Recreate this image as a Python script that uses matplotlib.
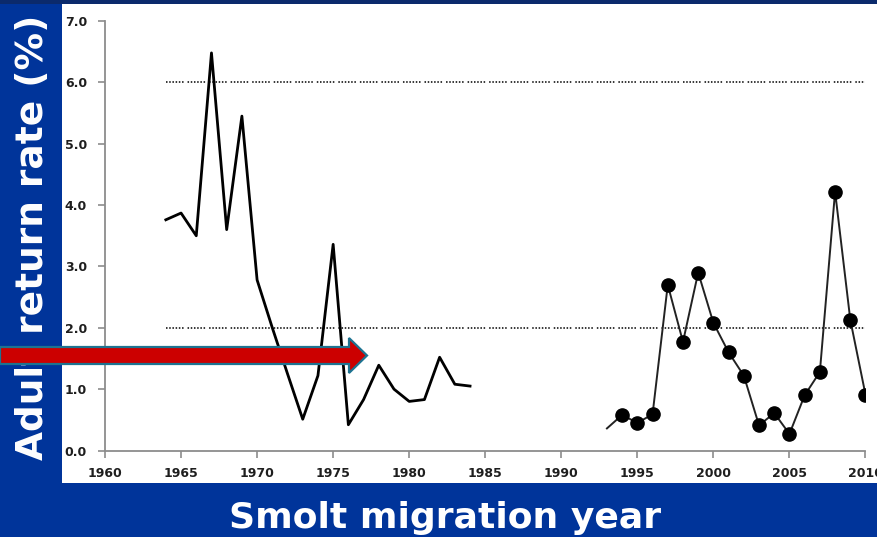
import matplotlib
matplotlib.use("Agg")
import matplotlib.pyplot as plt
from matplotlib.patches import Rectangle, FancyArrow

# smolt-to-adult return rates
early_years = list(range(1964, 1985))
early_rates = [3.76, 3.87, 3.50, 6.48, 3.60, 5.45, 2.78, 2.00, 1.25, 0.51, 1.22,
               3.36, 0.42, 0.83, 1.39, 1.00, 0.80, 0.83, 1.52, 1.08, 1.05]

recent_years = list(range(1993, 2011))
recent_rates = [0.36, 0.58, 0.45, 0.59, 2.70, 1.77, 2.90, 2.08, 1.60, 1.22,
                0.41, 0.61, 0.27, 0.90, 1.28, 4.22, 2.13, 0.91]

goal_levels = [2.0, 6.0]
goal_span = (1964, 2010)

x_ticks = list(range(1960, 2011, 5))
y_ticks = [0, 1, 2, 3, 4, 5, 6, 7]

BLUE = "#00349a"
W, H = 878, 537

fig = plt.figure(figsize=(W / 100, H / 100), dpi=100)
fig.patch.set_facecolor(BLUE)

# dark strip at the top and white panel behind the chart
fig.patches.append(Rectangle((0, 1 - 4 / H), 1, 4 / H, transform=fig.transFigure,
                             facecolor="#0b2a6c", edgecolor="none", zorder=-2))
fig.patches.append(Rectangle((62 / W, 1 - 483 / H), (W - 62) / W, (483 - 4) / H,
                             transform=fig.transFigure, facecolor="white",
                             edgecolor="none", zorder=-2))

ax = fig.add_axes([105 / W, 1 - 450.5 / H, (865.5 - 105) / W, (450.5 - 21) / H])
ax.set_facecolor("none")

for level in goal_levels:
    ax.plot(goal_span, [level, level], color="black", linewidth=1.1,
            linestyle=(0, (1, 1.1, 1, 1.1, 1, 1.1, 1, 1.1, 1, 1.1, 1, 2.6)),
            zorder=2)

ax.plot(early_years, early_rates, color="black", linewidth=2.0, zorder=3)
ax.plot(recent_years, recent_rates, color="#222222", linewidth=1.4,
        marker="o", markersize=9.5, markerfacecolor="black",
        markeredgecolor="black", markevery=list(range(1, len(recent_years))),
        zorder=3)

ax.set_xlim(1960, 2010)
ax.set_ylim(0, 7)

for side in ["top", "right"]:
    ax.spines[side].set_visible(False)
for side in ["left", "bottom"]:
    ax.spines[side].set_color("#8c8c8c")
    ax.spines[side].set_linewidth(1.3)

ax.tick_params(axis="x", direction="out", length=5, width=1.2,
               color="#8c8c8c", labelsize=9, labelcolor="#1e1e1e", pad=7)
ax.tick_params(axis="y", direction="out", length=5, width=1.2,
               color="#8c8c8c", labelsize=9, labelcolor="#1e1e1e", pad=8)

ax.set_xticks(x_ticks)
ax.set_xticklabels([str(v) for v in x_ticks], fontweight="bold")
ax.set_yticks(y_ticks)
ax.set_yticklabels([f"{v:.1f}" for v in y_ticks], fontweight="bold")

fig.text(33 / W, 1 - 237 / H, "Adult return rate (%)", rotation=90,
         ha="center", va="center", color="white", fontsize=27, fontweight="bold")
fig.text(445 / W, 1 - 528 / H, "Smolt migration year", ha="center",
         va="baseline", color="white", fontsize=26, fontweight="bold")

# red arrow pointing into the chart
arrow = FancyArrow(0, 1 - 355.5 / H, 367 / W, 0, width=17 / H,
                   head_width=35 / H, head_length=18 / W,
                   length_includes_head=True, transform=fig.transFigure,
                   facecolor="#cc0000", edgecolor="#1d7391", linewidth=1.6,
                   zorder=10)
fig.patches.append(arrow)

fig.savefig("out.png", dpi=100, facecolor=fig.get_facecolor())
